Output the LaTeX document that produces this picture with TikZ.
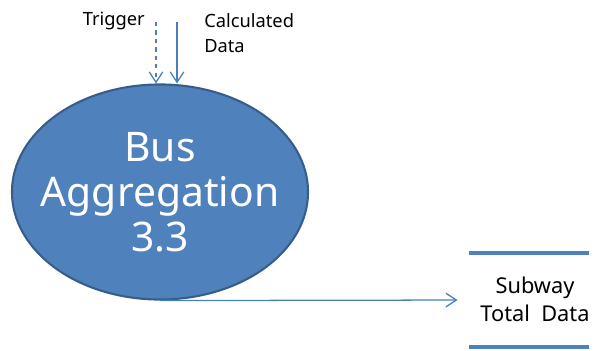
\documentclass[tikz,border=0pt]{standalone}
\usepackage{fontspec}
\setmainfont{Noto Sans}
\usepackage{tikz}
\usetikzlibrary{arrows.meta,positioning,shapes.geometric}
\definecolor{procfill}{HTML}{4F81BD}
\definecolor{procline}{HTML}{385D8A}
\definecolor{flow}{HTML}{4A7EBB}

\begin{document}
\begin{tikzpicture}[x=0.025cm, y=-0.025cm,
  process/.style={ellipse, draw=procline, line width=1.5pt, fill=procfill,
                  minimum width=7.4cm, minimum height=5.375cm, inner sep=0pt},
  proctext/.style={align=center, text=white, font=\fontsize{29}{32}\selectfont},
  store/.style={minimum width=3cm, minimum height=2.325cm, inner sep=0pt},
  storetext/.style={align=center, font=\fontsize{15.5}{20}\selectfont},
  label/.style={font=\fontsize{13}{18}\selectfont, inner sep=0pt},
  flowline/.style={draw=flow, line width=0.9pt,
                   -{Straight Barb[length=2.6mm, width=3.4mm]}}
]
  \useasboundingbox (0,0) rectangle (597,350);

  \node[process] (bus) at (160,192) {};
  \node[proctext] (bustext) at (bus.center) {Bus\\Aggregation\\3.3};

  \node[store] (total) at (529,300) {};
  \node[storetext] (totaltext) at (535,299) {Subway\\Total~ Data};
  \draw[procfill, line width=3pt] (total.north west) -- (total.north east);
  \draw[procfill, line width=3pt] (total.south west) -- (total.south east);

  \coordinate (trig) at (156,22);
  \coordinate (calc) at (177,22);
  \node[label, anchor=east] (triglabel) at (145,21) {Trigger};
  \node[label, anchor=west, align=left] (calclabel) at (204,33) {Calculated\\Data};

  \draw[flowline, dashed] (trig) -- (trig |- bus.north);
  \draw[flowline] (calc) -- (calc |- bus.north);
  \draw[flowline, shorten >=0.28cm] (bus.south) -- (total.west);
\end{tikzpicture}
\end{document}
